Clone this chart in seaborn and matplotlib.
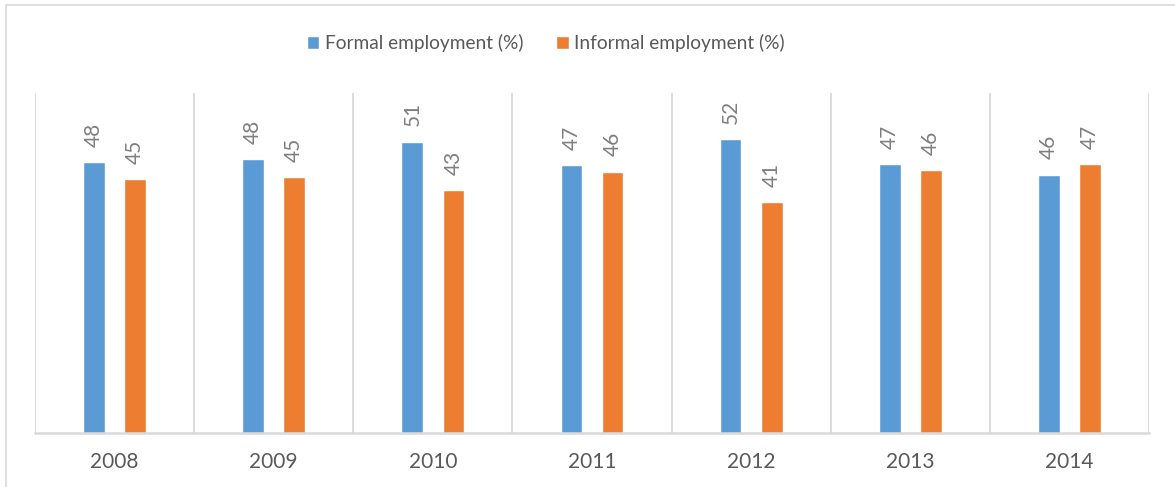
import matplotlib
matplotlib.use("Agg")
import matplotlib.pyplot as plt
import seaborn as sns
import pandas as pd
from matplotlib.patches import Rectangle

years = ["2008", "2009", "2010", "2011", "2012", "2013", "2014"]
formal = [47.8, 48.3, 51.4, 47.3, 51.8, 47.4, 45.6]
informal = [44.8, 45.1, 42.9, 46.1, 40.8, 46.4, 47.4]
series_names = ["Formal employment (%)", "Informal employment (%)"]
colors = ["#5B9BD5", "#ED7D31"]

df = pd.DataFrame({
    "year": years * 2,
    "value": formal + informal,
    "series": [series_names[0]] * len(years) + [series_names[1]] * len(years),
})

sns.set_theme(style="white")
plt.rcParams["font.family"] = ["Lato", "DejaVu Sans"]

W, H = 1175, 487
fig = plt.figure(figsize=(W / 100, H / 100), dpi=100)
ax = fig.add_axes([35 / W, 1 - 433 / H, (1149 - 35) / W, (433 - 93) / H])

sns.barplot(data=df, x="year", y="value", hue="series", palette=colors,
            width=0.516, gap=0.47, ax=ax, legend=True, saturation=1)

ax.set_ylim(0, 60)
ax.set_xlim(-0.5, len(years) - 0.5)
ax.set_yticks([])
ax.set_xlabel("")
ax.set_ylabel("")

grid_c = "#d9d9d9"
for x in [i - 0.5 for i in range(len(years) + 1)]:
    ax.axvline(x, color=grid_c, lw=1.3, zorder=0)
for s in ["top", "right", "left"]:
    ax.spines[s].set_visible(False)
ax.spines["bottom"].set_color(grid_c)
ax.spines["bottom"].set_linewidth(1.8)

ax.tick_params(axis="x", length=0, pad=14, labelsize=15, labelcolor="#595959")

for cont in ax.containers:
    ax.bar_label(cont, fmt="%.0f", rotation=90, padding=11, fontsize=15,
                 color="#7f7f7f")

handles, labels = ax.get_legend_handles_labels()
ax.legend_.remove()
fig.legend(handles, labels, loc="center", bbox_to_anchor=(546 / W, 1 - 43 / H),
           ncol=2, frameon=False, fontsize=13.8, labelcolor="#595959",
           handlelength=0.65, handleheight=0.65, handletextpad=0.3,
           columnspacing=1.7)

fig.patches.append(Rectangle((6 / W, -0.1), 1.2, 1 - 5 / H + 0.1,
                             transform=fig.transFigure, fill=False,
                             edgecolor="#d9d9d9", lw=1.2))

fig.savefig("out.png", dpi=100)
